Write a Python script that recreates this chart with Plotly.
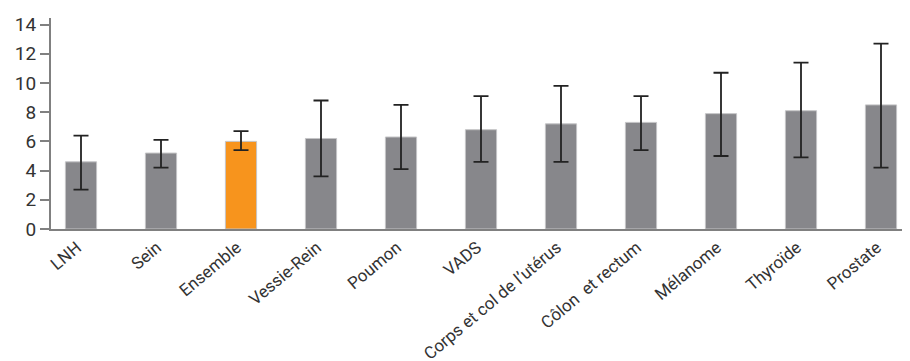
import plotly.graph_objects as go

categories = ["LNH", "Sein", "Ensemble", "Vessie-Rein", "Poumon", "VADS",
              "Corps et col de l\u2019utérus", "Côlon  et rectum", "Mélanome", "Thyroïde", "Prostate"]
values = [4.6, 5.2, 6.0, 6.2, 6.3, 6.8, 7.2, 7.3, 7.9, 8.1, 8.5]
err_high = [6.4, 6.1, 6.7, 8.8, 8.5, 9.1, 9.8, 9.1, 10.7, 11.4, 12.7]
err_low = [2.7, 4.2, 5.4, 3.6, 4.1, 4.6, 4.6, 5.4, 5.0, 4.9, 4.2]
y_ticks = [0, 2, 4, 6, 8, 10, 12, 14]

colors = ["#f7941d" if c == "Ensemble" else "#87878b" for c in categories]
plus = [h - v for h, v in zip(err_high, values)]
minus = [v - l for v, l in zip(values, err_low)]

fig = go.Figure(go.Bar(
    x=categories, y=values,
    marker=dict(color=colors, line=dict(color="#c4c4c6", width=1)),
    error_y=dict(type="data", symmetric=False, array=plus, arrayminus=minus,
                 color="#222222", thickness=1.8, width=7.5),
))

# page body has an 8px margin: compensate so the chart lands where the reference has it
fig.update_layout(
    width=902, height=353,
    margin=dict(l=43, r=0, t=10, b=132),
    plot_bgcolor="white", paper_bgcolor="white",
    bargap=0.61,
    showlegend=False,
    font=dict(family="Roboto", size=18, color="#333333"),
)
fig.update_xaxes(
    range=[-0.375, 10.3625],
    tickangle=-40,
    ticklabelshift=-4,
    showline=True, linecolor="#808080", linewidth=2,
    ticks="", showgrid=False, automargin=False,
    tickfont=dict(size=17),
)
fig.update_yaxes(
    range=[0, 14.45],
    tickvals=y_ticks,
    showline=True, linecolor="#808080", linewidth=2,
    ticks="outside", ticklen=9, tickcolor="#808080", tickwidth=1.5,
    showgrid=False, zeroline=False, automargin=False,
    tickfont=dict(size=19),
)

fig.write_html("out.html")
